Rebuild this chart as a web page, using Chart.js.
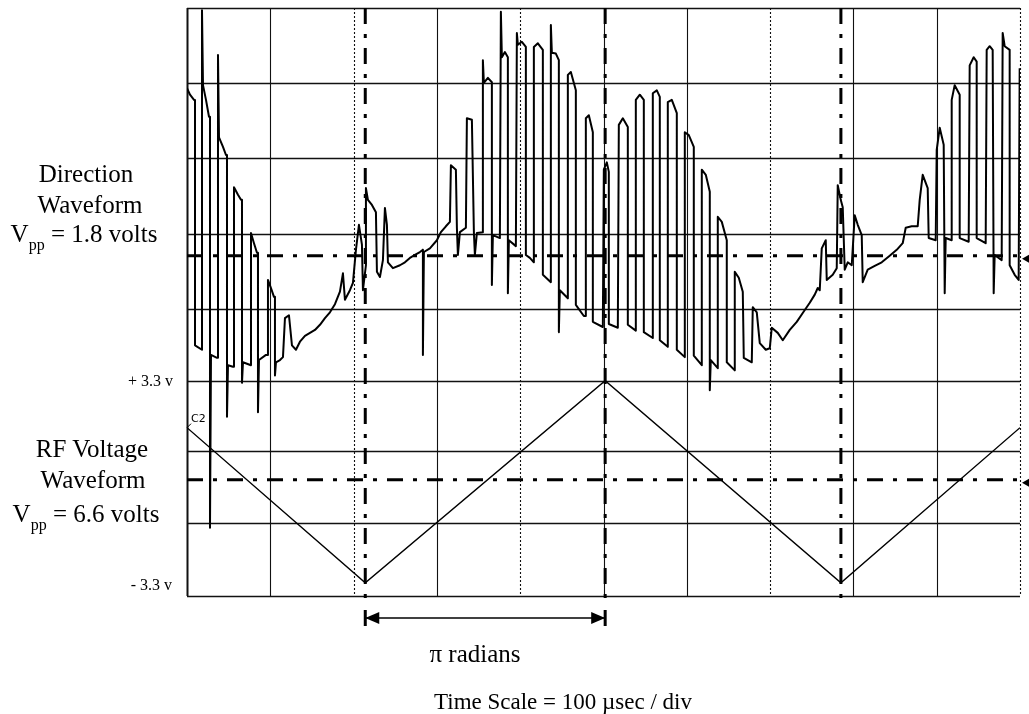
<!DOCTYPE html>
<html>
<head>
<meta charset="utf-8">
<title>Direction waveform vs RF voltage</title>
<script src="https://cdn.jsdelivr.net/npm/chart.js@4.4.1/dist/chart.umd.min.js"></script>
<style>
  html, body { margin: 0; padding: 0; background: #fff; }
  #wrap { position: relative; width: 1029px; height: 714px; color: #000;
          font-family: "Liberation Serif", "Times New Roman", serif; }
  #scope { position: absolute; left: 0; top: 0; }
  .lbl { position: absolute; width: 200px; text-align: center; font-size: 25px;
         line-height: 25px; white-space: nowrap; }
  .lbl sub { font-size: 16px; vertical-align: -8px; line-height: 0; }
  .volt { position: absolute; width: 80px; text-align: right; font-size: 16px;
          line-height: 16px; white-space: nowrap; }
  .ch { position: absolute; font-family: "DejaVu Sans", sans-serif; font-size: 11px; }
</style>
</head>
<body>
<div id="wrap">
  <canvas id="scope" width="1029" height="714"></canvas>

  <div class="lbl" style="left:-14px; top:161px;">Direction</div>
  <div class="lbl" style="left:-10px; top:192px;">Waveform</div>
  <div class="lbl" style="left:-16px; top:221px;">V<sub>pp</sub> = 1.8 volts</div>

  <div class="lbl" style="left:-8px; top:436px;">RF Voltage</div>
  <div class="lbl" style="left:-7px; top:467px;">Waveform</div>
  <div class="lbl" style="left:-14px; top:501px;">V<sub>pp</sub> = 6.6 volts</div>

  <div class="volt" style="left:93px; top:373px;">+ 3.3 v</div>
  <div class="volt" style="left:92px; top:577px;">- 3.3 v</div>

  <div class="ch" style="left:191px; top:412px;">C2</div>

  <div class="lbl" style="left:375px; top:641px;">&pi; radians</div>
  <div class="lbl" style="left:413px; top:689px; width:300px; font-size:23px;">Time Scale = 100 &micro;sec / div</div>
</div>

<script>
/* ------------------------------
   DATA (time in usec, level in divisions)
--------------------------------*/

const gridT = [0, 100, 200, 300, 400, 500, 600, 700, 800, 900, 1000];
const gridV = [4, 2.98, 1.96, 0.93, -0.10, -1.07, -2.03, -3.01, -4];

// phase markers (dash-dot verticals) and channel reference levels
const phaseMarks = [214, 502, 785];
const refLevels = [0.63, -2.42];

// RF voltage (channel 2) triangle
const rfTrace = [[0, -1.71], [214, -3.82], [502, -1.07], [785, -3.82], [1000, -1.71]];

// direction waveform (channel 1)
const dirTrace = [
    // burst at the left edge
    [0, 2.91], [3.6, 2.82], [8.4, 2.75], [9.6, 2.75], [9.6, -0.59], [18, -0.65],
    [18, 3.97], [19.2, 2.95], [22.8, 2.75], [26.4, 2.52], [27.6, 2.52], [27.6, -3.07],
    [28.8, -0.72], [36, -0.76], [37.2, -0.76], [37.2, 3.36], [38.4, 2.24], [43.2, 2.11],
    [46.8, 2.0], [48, 2.0], [48, -1.56], [49.2, -0.86], [55.2, -0.88], [56.4, -0.88],
    [56.4, 1.56], [61.2, 1.46], [64.8, 1.39], [66, 1.39], [66, -1.10], [67.2, -0.82],
    [76.8, -0.86], [76.8, 0.94], [80.4, 0.80], [84, 0.67], [85.2, 0.67], [85.2, -1.50],
    [86.4, -0.79], [94.8, -0.72], [97.2, -0.72], [97.2, 0.30], [100.8, 0.19], [104.4, 0.07],
    [105.6, 0.07], [105.6, -1.0], [106.8, -0.82], [111.6, -0.79], [115.2, -0.75],
    // slow ramp up to the first marker
    [117.6, -0.22], [122.4, -0.18], [126, -0.59], [130.8, -0.65], [135.6, -0.54],
    [141.6, -0.46], [147.6, -0.42], [153.6, -0.38], [159.6, -0.31], [165.6, -0.22],
    [171.6, -0.14], [177.6, -0.03], [183.6, 0.14], [187.2, 0.39], [189.6, 0.03],
    [195.6, 0.16], [199.2, 0.26], [202.8, 0.71], [206.4, 1.05], [210, 0.78], [211.2, 0.16],
    [214.8, 0.50], [214.8, 1.55], [217.2, 1.39], [222, 1.32], [226.8, 1.22], [228, 0.41],
    [231.6, 0.34], [235.2, 0.57], [237.6, 1.28], [240, 1.05], [241.2, 0.54], [247.2, 0.46],
    [255.6, 0.50], [261.6, 0.54], [267.6, 0.60], [273.6, 0.64], [279.6, 0.68], [283.2, 0.71],
    [283.2, -0.72], [284.4, 0.68], [291.6, 0.73], [300, 0.84], [304.8, 0.95], [310.8, 1.03],
    [315.6, 1.09], [316.8, 1.86], [322.8, 1.80], [324, 1.01], [325.2, 0.64], [327.6, 0.95],
    [334.8, 1.01], [336, 2.50], [342, 2.48], [344.4, 0.95], [345.6, 0.64], [348, 0.94],
    [355.2, 0.95],
    // big burst before pi
    [355.2, 3.29], [356.4, 2.98], [361.2, 3.05], [366, 2.99], [366, 0.23], [367.2, 0.91],
    [375.6, 0.87], [376.8, 3.95], [378, 3.33], [381.6, 3.40], [385.2, 3.33], [385.2, 0.12],
    [386.4, 0.84], [394.8, 0.76], [396, 3.66], [397.2, 3.50], [402, 3.54], [406.8, 3.47],
    [406.8, 0.64], [411.6, 0.60], [416.4, 0.54], [416.4, 3.47], [421.2, 3.52], [427.2, 3.43],
    [427.2, 0.37], [436.8, 0.27], [436.8, 3.77], [438, 3.39], [442.8, 3.38], [446.4, 3.29],
    [446.4, -0.41], [447.6, 0.16], [457.2, 0.05], [457.2, 3.09], [460.8, 3.13], [466.8, 2.88],
    [466.8, -0.04], [476.4, -0.19], [478.8, -0.19], [478.8, 2.50], [482.4, 2.54],
    [487.2, 2.31], [487.2, -0.27], [499.2, -0.34], [500.4, 1.80], [504, 1.90], [506.4, 1.77],
    // burst after pi
    [506.4, -0.30], [517.2, -0.35], [518.4, 2.41], [523.2, 2.50], [529.2, 2.38],
    [529.2, -0.31], [538.8, -0.39], [538.8, 2.75], [543.6, 2.82], [548.4, 2.75],
    [548.4, -0.41], [559.2, -0.49], [559.2, 2.84], [564, 2.88], [567.6, 2.79], [567.6, -0.52],
    [577.2, -0.61], [577.2, 2.72], [582, 2.75], [588, 2.57], [588, -0.65], [597.6, -0.75],
    [597.6, 2.31], [602.4, 2.27], [608.4, 2.11], [608.4, -0.73], [618, -0.86], [618, 1.80],
    [622.8, 1.73], [627.6, 1.50], [627.6, -1.20], [628.8, -0.79], [637.2, -0.90],
    [637.2, 1.16], [642, 1.09], [648, 0.84], [648, -0.82], [657.6, -0.93], [657.6, 0.41],
    [662.4, 0.33], [667.2, 0.14], [668.4, -0.76], [678, -0.82], [679.2, -0.07], [684, -0.14],
    [687.6, -0.56], [694.8, -0.65], [699.6, -0.63],
    // second ramp
    [702, -0.35], [709.2, -0.42], [715.2, -0.52], [723.6, -0.38], [732, -0.27],
    [739.2, -0.15], [747.6, -0.01], [753.6, 0.10], [757.2, 0.19], [759.6, 0.16], [762, 0.73],
    [766.8, 0.84], [768, 0.30], [775.2, 0.37], [780, 0.46], [781.2, 1.59], [784.8, 1.39],
    [787.2, 1.29], [789.6, 0.44], [793.2, 0.54], [798, 0.50], [801.6, 1.18], [805.2, 1.05],
    [810, 0.91], [811.2, 0.27], [817.2, 0.44], [825.6, 0.49], [834, 0.54], [843.6, 0.63],
    [852, 0.71], [859.2, 0.80],
    // burst at the right edge
    [862.8, 1.01], [870, 1.03], [877.2, 1.03], [879.6, 1.39], [883.2, 1.73], [889.2, 1.55],
    [890.4, 0.87], [898.8, 0.84], [900, 2.07], [903.6, 2.37], [908.4, 2.14], [909.6, 0.12],
    [910.8, 0.87], [918, 0.84], [918, 2.75], [921.6, 2.95], [927.6, 2.82], [927.6, 0.87],
    [938.4, 0.82], [939.6, 3.22], [944.4, 3.33], [948, 3.27], [948, 0.87], [958.8, 0.80],
    [960, 3.43], [963.6, 3.48], [967.2, 3.43], [968.4, 0.12], [969.6, 0.64], [978, 0.57],
    [979.2, 3.66], [981.6, 3.48], [987.6, 3.43], [987.6, 0.50], [993.6, 0.37], [998.4, 0.30],
    [999.6, 3.18]
];

/* ------------------------------
   SCOPE GRATICULE + MARKERS
--------------------------------*/

const dottedT = [200, 400, 700, 1000];

const scopeDecor = {
    id: "scopeDecor",
    beforeDatasetsDraw(chart) {
        const { ctx, chartArea: a, scales: { x, y } } = chart;
        ctx.save();
        ctx.strokeStyle = "#111";

        // horizontal divisions
        ctx.lineWidth = 1.5;
        gridV.forEach(v => {
            const py = Math.round(y.getPixelForValue(v)) + 0.5;
            ctx.beginPath();
            ctx.moveTo(a.left, py);
            ctx.lineTo(a.right, py);
            ctx.stroke();
        });

        // vertical divisions, some of them faint / dotted like the print
        gridT.forEach(t => {
            const px = Math.round(x.getPixelForValue(t)) + 0.5;
            const dotted = dottedT.includes(t);
            ctx.lineWidth = t === 0 ? 2 : 1.1;
            ctx.setLineDash(dotted ? [2, 2] : []);
            ctx.beginPath();
            ctx.moveTo(px, a.top);
            ctx.lineTo(px, a.bottom);
            ctx.stroke();
        });
        ctx.setLineDash([]);
        ctx.restore();
    },
    afterDatasetsDraw(chart) {
        const { ctx, chartArea: a, scales: { x, y } } = chart;
        ctx.save();
        ctx.fillStyle = "#000";
        ctx.strokeStyle = "#000";

        // pi radians arrow between the first two markers
        const x1 = x.getPixelForValue(phaseMarks[0]);
        const x2 = x.getPixelForValue(phaseMarks[1]);
        const ay = a.bottom + 22;
        ctx.lineWidth = 1.6;
        ctx.beginPath();
        ctx.moveTo(x1, ay);
        ctx.lineTo(x2, ay);
        ctx.stroke();
        [[x1, 1], [x2, -1]].forEach(([px, dir]) => {
            ctx.beginPath();
            ctx.moveTo(px, ay);
            ctx.lineTo(px + dir * 14, ay - 6);
            ctx.lineTo(px + dir * 14, ay + 6);
            ctx.closePath();
            ctx.fill();
            ctx.fillRect(px - 1.5, ay - 8, 3, 16);
        });

        // channel ground markers on the right edge
        refLevels.forEach(v => {
            const py = y.getPixelForValue(v);
            ctx.beginPath();
            ctx.moveTo(a.right + 2, py + 3);
            ctx.lineTo(a.right + 9, py - 1);
            ctx.lineTo(a.right + 9, py + 7);
            ctx.closePath();
            ctx.fill();
        });

        // trace start tick for C2
        const sx = x.getPixelForValue(rfTrace[0][0]);
        const sy = y.getPixelForValue(rfTrace[0][1]);
        ctx.lineWidth = 1;
        ctx.beginPath();
        ctx.moveTo(sx, sy);
        ctx.lineTo(sx + 4, sy - 4);
        ctx.stroke();
        ctx.restore();
    }
};

/* ------------------------------
   CHART
--------------------------------*/

const dashDot = [16, 10, 4, 10];

const markerSets = phaseMarks.map(t => ({
    data: [{ x: t, y: 4 }, { x: t, y: -4.1 }],
    borderColor: "#000",
    borderWidth: 3,
    borderDash: dashDot,
    pointRadius: 0,
    clip: false
}));

const levelSets = refLevels.map(v => ({
    data: [{ x: 0, y: v }, { x: 1000, y: v }],
    borderColor: "#000",
    borderWidth: 3,
    borderDash: dashDot,
    pointRadius: 0
}));

new Chart(document.getElementById("scope"), {
    type: "line",
    data: {
        datasets: [
            {
                label: "Direction",
                data: dirTrace.map(p => ({ x: p[0], y: p[1] })),
                borderColor: "#000",
                borderWidth: 2,
                borderJoinStyle: "round",
                pointRadius: 0,
                tension: 0
            },
            {
                label: "RF",
                data: rfTrace.map(p => ({ x: p[0], y: p[1] })),
                borderColor: "#000",
                borderWidth: 1.4,
                pointRadius: 0,
                tension: 0
            },
            ...markerSets,
            ...levelSets
        ]
    },
    options: {
        responsive: false,
        animation: false,
        devicePixelRatio: 1,
        layout: { padding: { left: 187, top: 8, right: 9, bottom: 118 } },
        plugins: { legend: { display: false }, tooltip: { enabled: false } },
        scales: {
            x: { type: "linear", min: 0, max: 1000, display: false },
            y: { type: "linear", min: -4, max: 4, display: false }
        }
    },
    plugins: [scopeDecor]
});
</script>
</body>
</html>
